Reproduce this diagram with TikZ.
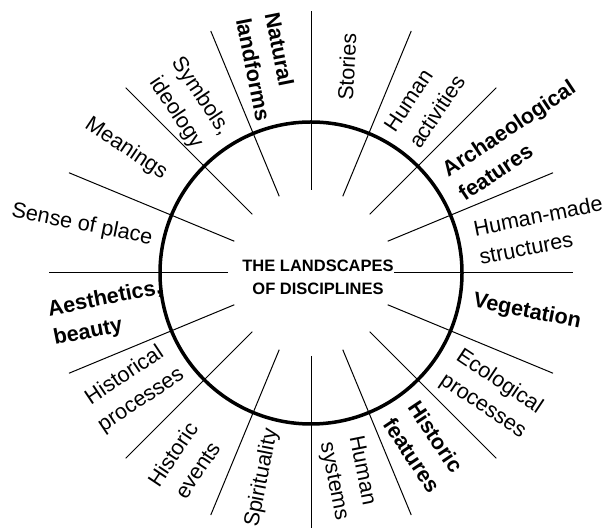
\documentclass[tikz,border=0pt]{standalone}
\usepackage{fontspec}
\setmainfont{Liberation Sans}
\begin{document}
\begin{tikzpicture}[x=1bp,y=1bp,
  lab/.style={inner sep=0pt, font=\fontsize{21.6bp}{29.5bp}\selectfont},
  blab/.style={inner sep=0pt, font=\fontsize{21.6bp}{29.5bp}\selectfont\bfseries},
  spoke/.style={line width=1bp, black},
  ring/.style={line width=3.5bp, black},
  titlestyle/.style={inner sep=0pt, align=center, font=\fontsize{16.5bp}{23bp}\selectfont\bfseries}]
\useasboundingbox (0,0) rectangle (605,528);
\clip (0,0) rectangle (605,528);
\coordinate (c) at (311,255);
\draw[ring] (c) circle[radius=151];
\foreach \a in {0,22.5,...,337.5}
  \draw[spoke, shift={(c)}] (\a:83) -- (\a:262);
\node[titlestyle] (title) at (318,250.5) {THE LANDSCAPES\\OF DISCIPLINES};
\node[lab, rotate=87] (stories) at (347,461) {Stories};
\node[lab, rotate=56.25, align=left] (humact) at (424.8,424.7) {Human\\activities};
\node[blab, rotate=33.75, align=left] (archaeo) at (516.7,387.8) {Archaeological\\features};
\node[lab, rotate=11.25, align=left] (humanmade) at (540.8,297.8) {Human-made\\structures};
\node[blab, rotate=-11.25] (veget) at (527,216) {Vegetation};
\node[lab, rotate=-33.75, align=left] (ecol) at (491,134) {Ecological\\processes};
\node[blab, rotate=-56.25, align=left] (histfeat) at (424.5,81.3) {Historic\\features};
\node[lab, rotate=-78.75, align=left] (humsys) at (348,49.6) {Human\\systems};
\node[lab, rotate=78.75] (spirit) at (262,50) {Spirituality};
\node[lab, rotate=56.25, align=center] (histev) at (185,66) {Historic\\events};
\node[lab, rotate=33.75, align=center] (histproc) at (133,140) {Historical\\processes};
\node[blab, rotate=11.25, align=left] (aesth) at (107.7,214.2) {Aesthetics,\\beauty};
\node[lab, rotate=-11.25] (sense) at (82,303) {Sense of place};
\node[lab, rotate=-33.75] (mean) at (126,379) {Meanings};
\node[lab, rotate=-56.25, align=center] (symb) at (188.5,423.5) {Symbols,\\ideology};
\node[blab, rotate=-78.75, align=left] (natural) at (268,461.1) {Natural\\landforms};
\end{tikzpicture}
\end{document}
